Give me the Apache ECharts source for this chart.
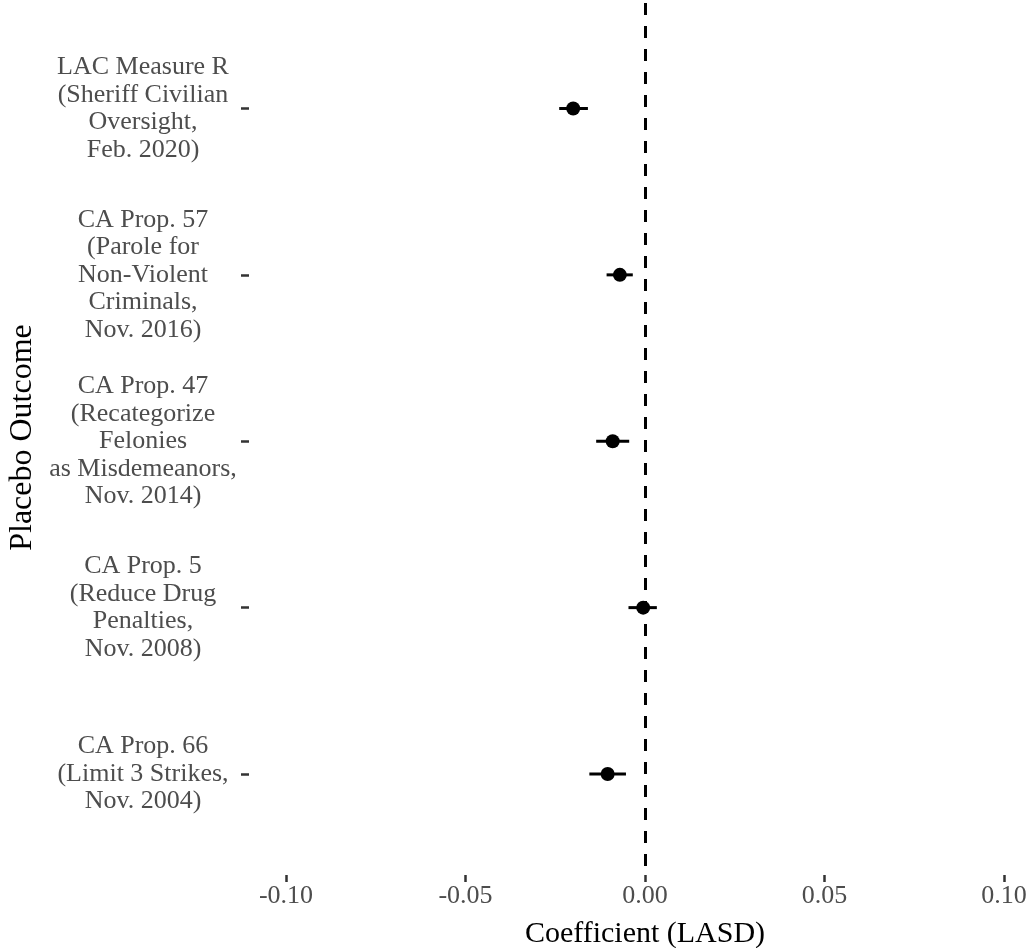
<!DOCTYPE html>
<html>
<head>
<meta charset="utf-8">
<script src="https://cdn.jsdelivr.net/npm/echarts@6/dist/echarts.min.js"></script>
<style>
html,body{margin:0;padding:0;background:#fff;}
#chart{width:1030px;height:948px;}
</style>
</head>
<body>
<div id="chart"></div>
<script>
// Categories listed top to bottom
const categories = [
  "LAC Measure R\n(Sheriff Civilian\nOversight,\nFeb. 2020)",
  "CA Prop. 57\n(Parole for\nNon-Violent\nCriminals,\nNov. 2016)",
  "CA Prop. 47\n(Recategorize\nFelonies\nas Misdemeanors,\nNov. 2014)",
  "CA Prop. 5\n(Reduce Drug\nPenalties,\nNov. 2008)",
  "CA Prop. 66\n(Limit 3 Strikes,\nNov. 2004)"
];
const coef  = [-0.0200, -0.0070, -0.0090, -0.0005, -0.0104];
const lower = [-0.0239, -0.0107, -0.0136, -0.0046, -0.0155];
const upper = [-0.0159, -0.0034, -0.0044,  0.0033, -0.0053];
const xTicks = [-0.10, -0.05, 0.00, 0.05, 0.10];

const n = categories.length;
const yPos = categories.map((c, i) => n - i);
const labelByPos = {};
yPos.forEach((p, i) => { labelByPos[p] = categories[i]; });

const pointData = coef.map((v, i) => [v, yPos[i]]);
const barData = coef.map((v, i) => [lower[i], upper[i], yPos[i]]);

const FONT = "'Liberation Serif', 'DejaVu Serif', serif";

const chart = echarts.init(document.getElementById('chart'));
chart.setOption({
  backgroundColor: '#fff',
  animation: false,
  grid: { left: 249, right: -11, top: 0, height: 875, containLabel: false, outerBoundsMode: 'none' },
  xAxis: {
    type: 'value',
    min: -0.1103, max: 0.1103,
    name: 'Coefficient (LASD)',
    nameLocation: 'middle',
    nameGap: 44,
    nameTextStyle: { fontFamily: FONT, fontSize: 30, color: '#000' },
    axisLine: { show: false, onZero: false },
    splitLine: { show: false },
    axisTick: { show: true, customValues: xTicks, length: 7, lineStyle: { color: '#333', width: 2.5 } },
    axisLabel: {
      customValues: xTicks,
      formatter: v => v.toFixed(2),
      fontFamily: FONT, fontSize: 26, color: '#4D4D4D', margin: 8
    }
  },
  yAxis: {
    type: 'value',
    min: 0.393, max: 5.652,
    name: 'Placebo Outcome',
    nameLocation: 'middle',
    nameGap: 204,
    nameRotate: 90,
    nameTextStyle: { fontFamily: FONT, fontSize: 32, color: '#000' },
    axisLine: { show: false, onZero: false },
    splitLine: { show: false },
    axisTick: { show: true, customValues: yPos, length: 8, lineStyle: { color: '#333', width: 2.5 } },
    axisLabel: {
      customValues: yPos,
      formatter: v => labelByPos[Math.round(v)] || '',
      fontFamily: FONT, fontSize: 26, color: '#4D4D4D',
      align: 'center', lineHeight: 27.5, margin: 106,
      padding: [0, 0, 8, 0]
    }
  },
  series: [
    {
      type: 'custom',
      data: barData,
      z: 2,
      renderItem: function (params, api) {
        const y = api.value(2);
        const p1 = api.coord([api.value(0), y]);
        const p2 = api.coord([api.value(1), y]);
        return {
          type: 'line',
          shape: { x1: p1[0], y1: p1[1], x2: p2[0], y2: p2[1] },
          style: { stroke: '#000', lineWidth: 3 }
        };
      }
    },
    {
      type: 'scatter',
      data: pointData,
      symbol: 'circle',
      symbolSize: 14,
      itemStyle: { color: '#000', opacity: 1 },
      z: 3,
      markLine: {
        silent: true,
        symbol: ['none', 'none'],
        label: { show: false },
        lineStyle: { color: '#000', type: [12, 11], width: 3, dashOffset: 14, opacity: 1 },
        data: [{ xAxis: 0 }]
      }
    }
  ]
});
</script>
</body>
</html>
